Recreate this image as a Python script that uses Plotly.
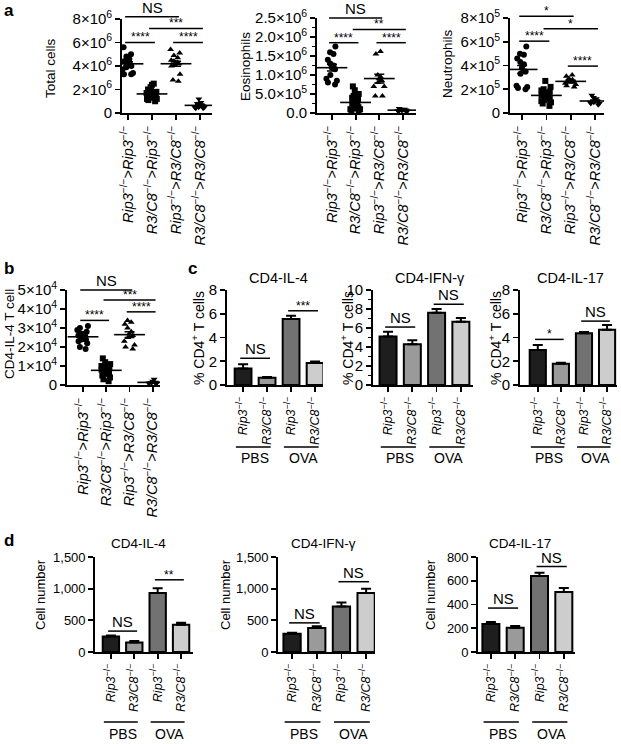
import numpy as np
import plotly.graph_objects as go

FONT = "Liberation Sans, Arial, sans-serif"
W, H = 621, 744

# ---------------- data ----------------
scatter_labels = [
    "<i>Rip3</i><sup>−/−</sup>&gt;<i>Rip3</i><sup>−/−</sup>",
    "<i>R3/C8</i><sup>−/−</sup>&gt;<i>Rip3</i><sup>−/−</sup>",
    "<i>Rip3</i><sup>−/−</sup>&gt;<i>R3/C8</i><sup>−/−</sup>",
    "<i>R3/C8</i><sup>−/−</sup>&gt;<i>R3/C8</i><sup>−/−</sup>",
]
bar_labels = ["<i>Rip3</i><sup>−/−</sup>", "<i>R3/C8</i><sup>−/−</sup>",
              "<i>Rip3</i><sup>−/−</sup>", "<i>R3/C8</i><sup>−/−</sup>"]
group_labels = ["PBS", "OVA"]

# panel a: total cells (x10^6)
total_rip3_rip3 = [5.6, 5.0, 4.8, 4.6, 4.4, 4.3, 4.2, 4.1, 4.0, 3.9, 3.7, 3.4, 3.3, 3.3]
total_r3c8_rip3 = [2.5, 2.4, 2.2, 2.0, 1.9, 1.8, 1.8, 1.7, 1.7, 1.6, 1.6, 1.5, 1.5, 1.4,
                   1.4, 1.3, 1.3, 1.2, 1.2, 1.1, 1.0]
total_rip3_r3c8 = [5.4, 5.1, 4.9, 4.7, 4.5, 4.4, 4.3, 4.3, 4.2, 4.1, 4.0, 3.3, 2.8, 2.7]
total_r3c8_r3c8 = [1.2, 0.9, 0.8, 0.7, 0.7, 0.6, 0.6, 0.5, 0.5, 0.5, 0.4, 0.4]
# eosinophils (x10^6)
eos_rip3_rip3 = [1.75, 1.6, 1.55, 1.4, 1.3, 1.25, 1.2, 1.15, 1.0, 0.9, 0.85, 0.8, 0.75]
eos_r3c8_rip3 = [0.7, 0.6, 0.5, 0.45, 0.4, 0.35, 0.3, 0.3, 0.25, 0.2, 0.2, 0.15, 0.15,
                 0.12, 0.1, 0.1, 0.08, 0.05]
eos_rip3_r3c8 = [1.62, 1.55, 1.0, 0.95, 0.9, 0.85, 0.8, 0.7, 0.7, 0.45, 0.45]
eos_r3c8_r3c8 = [0.12, 0.1, 0.1, 0.08, 0.08, 0.07, 0.06, 0.05, 0.05, 0.04]
# neutrophils (x10^5)
neu_rip3_rip3 = [5.6, 5.0, 4.9, 4.6, 4.3, 4.1, 3.8, 3.5, 3.3, 2.3, 2.2, 2.1, 2.0]
neu_r3c8_rip3 = [2.7, 2.2, 2.0, 1.9, 1.8, 1.7, 1.6, 1.5, 1.5, 1.4, 1.3, 1.2, 1.1, 1.0,
                 0.9, 0.8, 0.6]
neu_rip3_r3c8 = [3.2, 3.1, 2.9, 2.8, 2.7, 2.6, 2.6, 2.5, 2.4, 2.3, 2.2]
neu_r3c8_r3c8 = [1.5, 1.3, 1.2, 1.0, 1.0, 0.9, 0.9, 0.8, 0.8, 0.7]
# panel b: CD4-IL-4 T cell (x10^4)
il4t_rip3_rip3 = [3.1, 3.0, 2.9, 2.8, 2.7, 2.7, 2.6, 2.6, 2.5, 2.5, 2.4, 2.4, 2.3, 2.2, 2.0, 1.9]
il4t_r3c8_rip3 = [1.4, 1.2, 1.1, 1.0, 1.0, 0.9, 0.9, 0.8, 0.8, 0.8, 0.7, 0.7, 0.6, 0.6,
                  0.5, 0.4, 0.3, 0.2]
il4t_rip3_r3c8 = [3.4, 3.3, 3.2, 3.0, 2.8, 2.7, 2.6, 2.5, 2.3, 2.1, 2.0, 1.9]
il4t_r3c8_r3c8 = [0.3, 0.2, 0.15, 0.12, 0.1, 0.1, 0.08, 0.05]

# panel c: % CD4+ T cells
pct_il4 = [1.4, 0.62, 5.55, 1.85]
pct_il4_err = [0.35, 0.05, 0.28, 0.12]
pct_ifng = [5.1, 4.3, 7.6, 6.65]
pct_ifng_err = [0.5, 0.4, 0.4, 0.4]
pct_il17 = [2.95, 1.8, 4.35, 4.65]
pct_il17_err = [0.42, 0.08, 0.12, 0.4]
# panel d: cell number
num_il4 = [245, 150, 930, 430]
num_il4_err = [15, 25, 75, 30]
num_ifng = [290, 380, 720, 930]
num_ifng_err = [15, 25, 60, 70]
num_il17 = [235, 205, 640, 505]
num_il17_err = [18, 15, 28, 35]

bar_colors = ["#1e1e1e", "#9a9a9a", "#727272", "#cdcdcd"]
symbols = ["circle", "square", "triangle-up", "triangle-down"]

# significance: (group i, group j, y value, label)
sig_total = [(0, 2, 8.2, "NS"), (1, 3, 7.2, "***"), (0, 1, 6.0, "****"), (2, 3, 6.0, "****")]
sig_eos = [(0, 2, 2.5, "NS"), (1, 3, 2.2, "**"), (0, 1, 1.85, "****"), (2, 3, 1.85, "****")]
sig_neu = [(0, 2, 8.15, "*"), (1, 3, 7.1, "*"), (0, 1, 6.05, "****"), (2, 3, 3.95, "****")]
sig_il4t = [(0, 2, 5.0, "NS"), (1, 3, 4.47, "***"), (2, 3, 3.85, "****"), (0, 1, 3.4, "****")]
sig_pct_il4 = [(0, 1, 2.25, "NS"), (2, 3, 6.25, "***")]
sig_pct_ifng = [(0, 1, 6.1, "NS"), (2, 3, 8.5, "NS")]
sig_pct_il17 = [(0, 1, 3.84, "*"), (2, 3, 5.38, "NS")]
sig_num_il4 = [(0, 1, 330, "NS"), (2, 3, 1140, "**")]
sig_num_ifng = [(0, 1, 460, "NS"), (2, 3, 1110, "NS")]
sig_num_il17 = [(0, 1, 370, "NS"), (2, 3, 720, "NS")]

# ---------------- layout helpers ----------------
fig = go.Figure()
layout = dict(template="none", width=W, height=H, autosize=False,
              margin=dict(l=0, r=0, t=0, b=0, pad=0, autoexpand=False),
              paper_bgcolor="white", plot_bgcolor="rgba(0,0,0,0)",
              showlegend=False, boxmode="overlay",
              font=dict(family=FONT, color="black"))
shapes, annots = [], []


def pxx(px):
    return px / W


def pxy(py):
    return 1 - py / H


def sfx(k):
    return "" if k == 1 else str(k)


def make_axes(k, px, py, xr, ymax, yvals, ytext, xtext, tfs=13.5, xfs=13, minor=None):
    s = sfx(k)
    common = dict(showline=True, linecolor="black", linewidth=1.8, ticks="outside",
                  ticklen=5, tickwidth=1.8, tickcolor="black", showgrid=False,
                  zeroline=False, fixedrange=True, automargin=False,
                  ticklabeloverflow="allow", tickmode="array")
    layout["xaxis" + s] = dict(
        domain=[pxx(px[0]), pxx(px[1])], range=xr, anchor="y" + s,
        tickvals=[0, 1, 2, 3], ticktext=xtext, tickangle=-90,
        tickfont=dict(family=FONT, size=xfs, color="black"), **common)
    ya = dict(
        domain=[pxy(py[1]), pxy(py[0])], range=[0, ymax], anchor="x" + s,
        tickvals=yvals, ticktext=ytext,
        tickfont=dict(family=FONT, size=tfs, color="black"), **common)
    if minor:
        ya["minor"] = dict(tickmode="linear", tick0=0, dtick=minor, ticks="outside",
                           ticklen=3, tickwidth=1.5, tickcolor="black", showgrid=False)
    layout["yaxis" + s] = ya


def add_sig(k, ymax, sigs):
    s = sfx(k)
    for i, j, yv, txt in sigs:
        yd = yv / ymax
        shapes.append(dict(type="line", xref="x" + s, yref="y" + s + " domain",
                           x0=i - 0.12, x1=j + 0.12, y0=yd, y1=yd,
                           line=dict(color="black", width=1.5)))
        star = txt.startswith("*")
        annots.append(dict(xref="x" + s, yref="y" + s + " domain", x=(i + j) / 2, y=yd,
                           text=txt, showarrow=False, yanchor="bottom",
                           yshift=-4 if star else -1,
                           font=dict(family=FONT, size=12 if star else 15, color="black")))


def add_scatter(k, groups):
    s = sfx(k)
    for i, vals in enumerate(groups):
        fig.add_trace(go.Box(
            x=[i] * len(vals), y=vals, boxpoints="all", jitter=1.0, pointpos=0, width=0.55,
            fillcolor="rgba(0,0,0,0)", line=dict(color="rgba(0,0,0,0)", width=0),
            marker=dict(symbol=symbols[i], size=6, color="black", line=dict(width=0)),
            xaxis="x" + s, yaxis="y" + s, hoverinfo="skip"))
        arr = np.array(vals, dtype=float)
        mean = arr.mean()
        sem = arr.std(ddof=1) / np.sqrt(len(arr))
        fig.add_trace(go.Scatter(
            x=[i], y=[mean], mode="markers",
            marker=dict(symbol="line-ew-open", size=22, color="black",
                        line=dict(width=1.6, color="black")),
            error_y=dict(type="data", array=[sem], thickness=1.5, width=5, color="black"),
            xaxis="x" + s, yaxis="y" + s, hoverinfo="skip"))


def add_bars(k, vals, errs):
    s = sfx(k)
    fig.add_trace(go.Bar(
        x=[0, 1, 2, 3], y=vals, width=0.7,
        marker=dict(color=bar_colors, line=dict(color="black", width=2)),
        error_y=dict(type="data", symmetric=False, array=errs, arrayminus=[0] * 4,
                     thickness=2, width=5, color="black"),
        xaxis="x" + s, yaxis="y" + s, hoverinfo="skip"))


def add_groups(k, yline_px, ytext_px, fs=14):
    s = sfx(k)
    for g, (a, b) in enumerate([(0, 1), (2, 3)]):
        shapes.append(dict(type="line", xref="x" + s, yref="paper",
                           x0=a - 0.3, x1=b + 0.15, y0=pxy(yline_px), y1=pxy(yline_px),
                           line=dict(color="black", width=1.5)))
        annots.append(dict(xref="x" + s, yref="paper", x=(a + b) / 2, y=pxy(ytext_px),
                           yanchor="middle", text=group_labels[g], showarrow=False,
                           font=dict(family=FONT, size=fs, color="black")))


def text_px(txt, x, y, size, angle=0, bold=False, anchor="center"):
    annots.append(dict(xref="paper", yref="paper", x=pxx(x), y=pxy(y), text=txt,
                       showarrow=False, textangle=angle, xanchor=anchor, yanchor="middle",
                       font=dict(family=FONT, size=size, color="black",
                                 weight="bold" if bold else "normal")))


sup = lambda m, e: f"{m}×10<sup>{e}</sup>"
SL = 14.5   # scatter category label size
BL = 12.5   # bar category label size

# ---- panel a ----
make_axes(1, (122, 212), (19, 113), [-0.25, 3.5], 8, [0, 2, 4, 6, 8],
          ["0", sup(2, 6), sup(4, 6), sup(6, 6), sup(8, 6)], scatter_labels, tfs=15, xfs=SL)
add_scatter(1, [total_rip3_rip3, total_r3c8_rip3, total_rip3_r3c8, total_r3c8_r3c8])
add_sig(1, 8, sig_total)

make_axes(2, (317, 416), (18, 113), [-0.63, 3.55], 2.5, [0, 0.5, 1.0, 1.5, 2.0, 2.5],
          ["0.0", sup("5.0", 5), sup("1.0", 6), sup("1.5", 6), sup("2.0", 6), sup("2.5", 6)],
          scatter_labels, tfs=15, xfs=SL, minor=0.25)
add_scatter(2, [eos_rip3_rip3, eos_r3c8_rip3, eos_rip3_r3c8, eos_r3c8_r3c8])
add_sig(2, 2.5, sig_eos)

make_axes(3, (510, 604), (18, 113), [-0.5, 3.37], 8, [0, 2, 4, 6, 8],
          ["0", sup(2, 5), sup(4, 5), sup(6, 5), sup(8, 5)], scatter_labels, tfs=15, xfs=SL)
add_scatter(3, [neu_rip3_rip3, neu_r3c8_rip3, neu_rip3_r3c8, neu_r3c8_r3c8])
add_sig(3, 8, sig_neu)

# ---- panel b ----
make_axes(4, (67, 160), (290, 385), [-0.69, 3.31], 5, [0, 1, 2, 3, 4, 5],
          ["0", sup(1, 4), sup(2, 4), sup(3, 4), sup(4, 4), sup(5, 4)], scatter_labels,
          tfs=15, xfs=SL)
add_scatter(4, [il4t_rip3_rip3, il4t_r3c8_rip3, il4t_rip3_r3c8, il4t_r3c8_r3c8])
add_sig(4, 5, sig_il4t)

# ---- panel c ----
make_axes(5, (227, 323), (290, 385), [-0.67, 3.33], 8, [0, 2, 4, 6, 8],
          ["0", "2", "4", "6", "8"], bar_labels, tfs=15, xfs=BL)
add_bars(5, pct_il4, pct_il4_err)
add_sig(5, 8, sig_pct_il4)
add_groups(5, 447, 458)

make_axes(6, (373, 473), (290, 385), [-0.62, 3.5], 10, [0, 2, 4, 6, 8, 10],
          ["0", "2", "4", "6", "8", "10"], bar_labels, tfs=15, xfs=BL, minor=1)
add_bars(6, pct_ifng, pct_ifng_err)
add_sig(6, 10, sig_pct_ifng)
add_groups(6, 447, 458)

make_axes(7, (520, 617), (290, 385), [-0.77, 3.43], 8, [0, 2, 4, 6, 8],
          ["0", "2", "4", "6", "8"], bar_labels, tfs=15, xfs=BL)
add_bars(7, pct_il17, pct_il17_err)
add_sig(7, 8, sig_pct_il17)
add_groups(7, 447, 458)

# ---- panel d ----
make_axes(8, (95, 193), (557, 652), [-0.68, 3.51], 1500, [0, 500, 1000, 1500],
          ["0", "500", "1,000", "1,500"], bar_labels, tfs=13, xfs=BL)
add_bars(8, num_il4, num_il4_err)
add_sig(8, 1500, sig_num_il4)
add_groups(8, 722, 734)

make_axes(9, (278, 375), (557, 652), [-0.57, 3.36], 1500, [0, 500, 1000, 1500],
          ["0", "500", "1,000", "1,500"], bar_labels, tfs=13, xfs=BL)
add_bars(9, num_ifng, num_ifng_err)
add_sig(9, 1500, sig_num_ifng)
add_groups(9, 722, 734)

make_axes(10, (478, 575), (557, 652), [-0.53, 3.46], 800, [0, 200, 400, 600, 800],
          ["0", "200", "400", "600", "800"], bar_labels, tfs=13, xfs=BL)
add_bars(10, num_il17, num_il17_err)
add_sig(10, 800, sig_num_il17)
add_groups(10, 722, 734)

# ---- titles / labels ----
text_px("a", 2, 11, 17, bold=True, anchor="left")
text_px("b", 2, 268, 17, bold=True, anchor="left")
text_px("c", 186, 268, 17, bold=True, anchor="left")
text_px("d", 2, 540, 17, bold=True, anchor="left")

text_px("Total cells", 50, 68, 13.5, angle=-90)
text_px("Eosinophils", 245, 66, 13.5, angle=-90)
text_px("Neutrophils", 447, 64, 13.5, angle=-90)
text_px("CD4-IL-4 T cell", 9, 334, 13.5, angle=-90)
text_px("% CD4<sup>+</sup> T cells", 198, 338, 14, angle=-90)
text_px("% CD4<sup>+</sup> T cells", 347, 338, 14, angle=-90)
text_px("% CD4<sup>+</sup> T cells", 495, 338, 14, angle=-90)
text_px("Cell number", 40, 595, 13, angle=-90)
text_px("Cell number", 225, 595, 13, angle=-90)
text_px("Cell number", 430, 595, 13, angle=-90)

text_px("CD4-IL-4", 278, 278, 14.5)
text_px("CD4-IFN-γ", 430, 278, 14.5)
text_px("CD4-IL-17", 570, 278, 14.5)
text_px("CD4-IL-4", 138, 543, 13.5)
text_px("CD4-IFN-γ", 323, 543, 13.5)
text_px("CD4-IL-17", 520, 543, 13.5)

layout["shapes"] = shapes
layout["annotations"] = annots
fig.update_layout(**layout)
fig.write_html("out.html",
               config={"displayModeBar": False, "staticPlot": True},
               post_script="document.body.style.margin='0px';"
                           "document.body.style.overflow='hidden';")
